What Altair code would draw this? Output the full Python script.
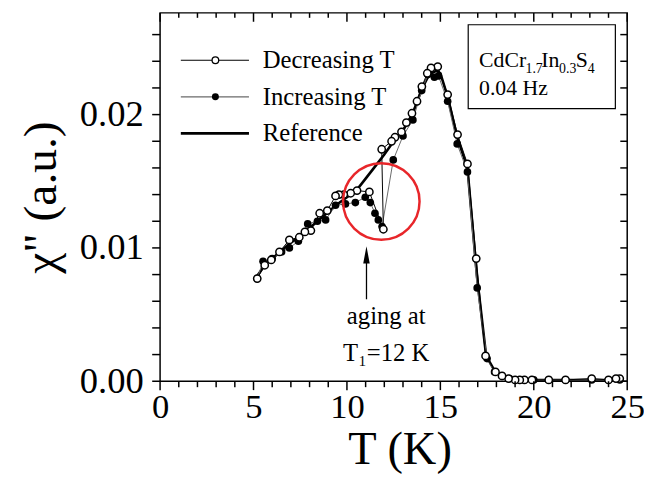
import altair as alt
import pandas as pd

# ---------------- data ----------------
dec_T = [24.6, 24.4, 24.0, 23.1, 21.7, 20.8, 19.9, 19.5, 19.25, 19.0, 18.65, 18.3, 17.95,
         17.42, 16.92, 16.45, 15.92, 15.39, 14.86, 14.5, 14.3, 14.01, 13.75, 13.48, 13.18,
         12.92, 12.57, 12.39, 11.86, 11.95, 11.2, 10.54, 10.2, 9.83, 9.57, 9.39, 8.95, 8.54,
         8.07, 7.75, 7.45, 6.92, 6.39, 5.95, 5.6, 5.2]
dec_chi = [0.0002, 0.0002, 0.0001, 0.0002, 0.0001, 0.0001, 0.0001, 0.0001, 0.0001, 0.0001,
           0.0002, 0.0004, 0.0007, 0.0019, 0.0092, 0.0163, 0.0185, 0.0215, 0.0236, 0.0235,
           0.0231, 0.0221, 0.0210, 0.0201, 0.0194, 0.0187, 0.0183, 0.0180, 0.0174, 0.0114,
           0.0142, 0.0143, 0.0141, 0.0140, 0.0140, 0.0139, 0.0128, 0.0126, 0.0113, 0.0112,
           0.0108, 0.0106, 0.0097, 0.0091, 0.0087, 0.0077]

inc_T = [5.2, 5.51, 6.0, 6.5, 6.92, 7.4, 7.9, 8.42, 8.86, 9.39, 9.92, 10.45, 10.98, 11.25,
         11.5, 11.68, 11.88, 12.48, 13.0, 13.53, 14.0, 14.33, 14.68, 14.9, 15.39, 15.9,
         16.45, 16.97, 17.5, 17.9, 18.3, 18.7, 19.0, 19.5, 20.0, 20.8, 21.7, 23.1, 24.0, 24.6]
inc_chi = [0.0077, 0.0090, 0.0092, 0.0097, 0.0100, 0.0105, 0.0118, 0.0120, 0.0121, 0.0132,
           0.0133, 0.0134, 0.0138, 0.0134, 0.0126, 0.0121, 0.0116, 0.0166, 0.0184, 0.0196,
           0.0218, 0.0230, 0.0228, 0.0229, 0.0210, 0.0178, 0.0157, 0.0070, 0.0017, 0.0007,
           0.0004, 0.0002, 0.0001, 0.0001, 0.0001, 0.0001, 0.0001, 0.0001, 0.0001, 0.0001]

ref_T = [5.1, 5.6, 6.0, 6.5, 7.0, 7.5, 8.0, 8.5, 9.0, 9.5, 10.0, 10.5, 11.0, 11.5, 12.0,
         12.5, 13.0, 13.5, 14.0, 14.4, 14.8, 15.0, 15.4, 15.9, 16.45, 16.95, 17.45, 17.9,
         18.3, 18.7, 19.2, 20.0, 21.0, 22.0, 23.0, 24.0, 24.8]
ref_chi = [0.0077, 0.0087, 0.0092, 0.0098, 0.0104, 0.0109, 0.0115, 0.0121, 0.0127, 0.0133,
           0.0138, 0.0143, 0.0152, 0.0161, 0.0170, 0.0180, 0.0188, 0.0200, 0.0219, 0.0230,
           0.0233, 0.0231, 0.0213, 0.0183, 0.0160, 0.0080, 0.0019, 0.0008, 0.0004, 0.0002,
           0.0001, 0.0001, 0.0001, 0.0001, 0.0001, 0.0001, 0.0001]

x_tick_values = list(range(0, 26))
x_label_values = [0, 5, 10, 15, 20, 25]
y_tick_values = [round(i * 0.002, 3) for i in range(14)]
y_label_values = [0.0, 0.01, 0.02]

legend_labels = ["Decreasing T", "Increasing T", "Reference"]
inset_line2 = "0.04 Hz"
note_line1 = "aging at"
note_line2 = "T\u2081=12 K"

# ---------------- build ----------------
W, H = 473, 373
FONT = "Liberation Serif"

dec = pd.DataFrame({"T": dec_T, "chi": dec_chi, "i": range(len(dec_T))})
inc = pd.DataFrame({"T": inc_T, "chi": inc_chi, "i": range(len(inc_T))})
ref = pd.DataFrame({"T": ref_T, "chi": ref_chi, "i": range(len(ref_T))})
xt = pd.DataFrame({"T": x_tick_values})
yt = pd.DataFrame({"chi": y_tick_values})
one = pd.DataFrame({"k": [0]})

xs = alt.Scale(domain=[0, 25], nice=False, zero=False)
ys = alt.Scale(domain=[0, 0.02763], nice=False, zero=False)

X = alt.X("T:Q", scale=xs, title="T (K)", axis=alt.Axis(
    values=x_label_values, format="d", ticks=False, domain=False,
    labelFont=FONT, labelFontSize=35, labelPadding=9, labelFlush=False,
    labelOverlap=False, labelColor="black",
    titleFont=FONT, titleFontSize=47, titleFontWeight="normal", titlePadding=2,
    titleX=W / 2 + 6, titleColor="black", grid=False))
Y = alt.Y("chi:Q", scale=ys, title='\u03c7" (a.u.)', axis=alt.Axis(
    values=y_label_values, format=".2f", ticks=False, domain=False,
    labelFont=FONT, labelFontSize=37, labelPadding=17, labelFlush=False,
    labelOverlap=False, labelColor="black",
    titleFont=FONT, titleFontSize=48, titleFontWeight="normal", titlePadding=14,
    titleColor="black", grid=False))

ref_line = alt.Chart(ref).mark_line(color="black", strokeWidth=2.6).encode(
    x=X, y=Y, order="i:Q")
inc_line = alt.Chart(inc).mark_line(color="#6a6a6a", strokeWidth=1).encode(
    x=X, y=Y, order="i:Q")
dec_line = alt.Chart(dec).mark_line(color="black", strokeWidth=1).encode(
    x=X, y=Y, order="i:Q")
inc_pts = alt.Chart(inc).mark_point(shape="circle", filled=True, color="black",
                                    size=60, opacity=1).encode(x=X, y=Y)
dec_pts = alt.Chart(dec).mark_point(shape="circle", filled=True, fill="white",
                                    stroke="black", strokeWidth=1.5, size=55,
                                    opacity=1).encode(x=X, y=Y)

# tick marks (from the tick lists, through the scales)
maj_x = "datum.T % 5 == 0"
min_x = "datum.T % 5 != 0"
tk = dict(color="black", strokeWidth=1.5)
ticks = [
    alt.Chart(xt).transform_filter(maj_x).mark_rule(**tk).encode(
        x=X, y=alt.value(H), y2=alt.value(H + 9)),
    alt.Chart(xt).transform_filter(min_x).mark_rule(**tk).encode(
        x=X, y=alt.value(H), y2=alt.value(H + 6)),
    alt.Chart(xt).transform_filter(maj_x).mark_rule(**tk).encode(
        x=X, y=alt.value(0), y2=alt.value(9)),
    alt.Chart(xt).transform_filter(min_x).mark_rule(**tk).encode(
        x=X, y=alt.value(0), y2=alt.value(5)),
    alt.Chart(yt).mark_rule(**tk).encode(
        y=Y, x=alt.value(-8), x2=alt.value(0)),
    alt.Chart(yt).mark_rule(**tk).encode(
        y=Y, x=alt.value(W - 7), x2=alt.value(W)),
]


def txt(s, x, y, size, align="left", baseline="alphabetic"):
    return alt.Chart(one).mark_text(text=s, font=FONT, fontSize=size, align=align,
                                    baseline=baseline, color="black").encode(
        x=alt.value(x), y=alt.value(y))


def hline(x1, x2, y, color, width):
    return alt.Chart(one).mark_rule(color=color, strokeWidth=width).encode(
        x=alt.value(x1), x2=alt.value(x2), y=alt.value(y))


# legend (drawn)
rows = [48, 85, 122]
leg = [
    hline(21, 90, rows[0], "black", 1.2),
    alt.Chart(one).mark_point(shape="circle", filled=True, fill="white", stroke="black",
                              strokeWidth=1.3, size=45, opacity=1).encode(
        x=alt.value(56), y=alt.value(rows[0])),
    hline(21, 90, rows[1], "#6a6a6a", 1.2),
    alt.Chart(one).mark_point(shape="circle", filled=True, color="black", size=50,
                              opacity=1).encode(x=alt.value(56), y=alt.value(rows[1])),
    hline(21, 90, rows[2], "black", 3),
]
for r, lab in zip(rows, legend_labels):
    leg.append(txt(lab, 104, r, 25, baseline="middle"))

# inset box
box = alt.Chart(one).mark_rect(fillOpacity=0, stroke="black", strokeWidth=1.2).encode(
    x=alt.value(312), x2=alt.value(461), y=alt.value(12), y2=alt.value(97))
inset = [box,
         txt("CdCr", 323, 55, 22), txt("1.7", 370, 61, 14), txt("In", 386, 55, 22),
         txt("0.3", 404, 61, 14), txt("S", 421, 55, 22), txt("4", 433, 61, 14),
         txt(inset_line2, 323, 83, 22)]

# annotation
red_circle = alt.Chart(one).mark_point(shape="circle", filled=False, stroke="#e8262a",
                                       strokeWidth=2.5, size=6000, opacity=1).encode(
    x=alt.value(224), y=alt.value(191))
arrow_shaft = alt.Chart(one).mark_rule(color="black", strokeWidth=1.3).encode(
    x=alt.value(209), y=alt.value(250), y2=alt.value(290))
arrow_head = alt.Chart(one).mark_point(shape="M0,-1L0.38,1L-0.38,1Z", filled=True,
                                       color="black", size=300, opacity=1).encode(
    x=alt.value(209), y=alt.value(245))
notes = [txt(note_line1, 229, 315, 25, align="center"),
         txt(note_line2, 229, 352, 25, align="center")]

chart = alt.layer(
    ref_line, inc_line, dec_line, inc_pts, dec_pts, *ticks, *leg, *inset,
    red_circle, arrow_shaft, arrow_head, *notes
).properties(
    width=W, height=H, background="white",
    autosize=alt.AutoSizeParams(type="none"),
    padding={"left": 154, "top": 2, "right": 17, "bottom": 92},
).configure_view(stroke="black", strokeWidth=1.5)

chart.save("out.html", embed_options={"renderer": "svg", "actions": False})
